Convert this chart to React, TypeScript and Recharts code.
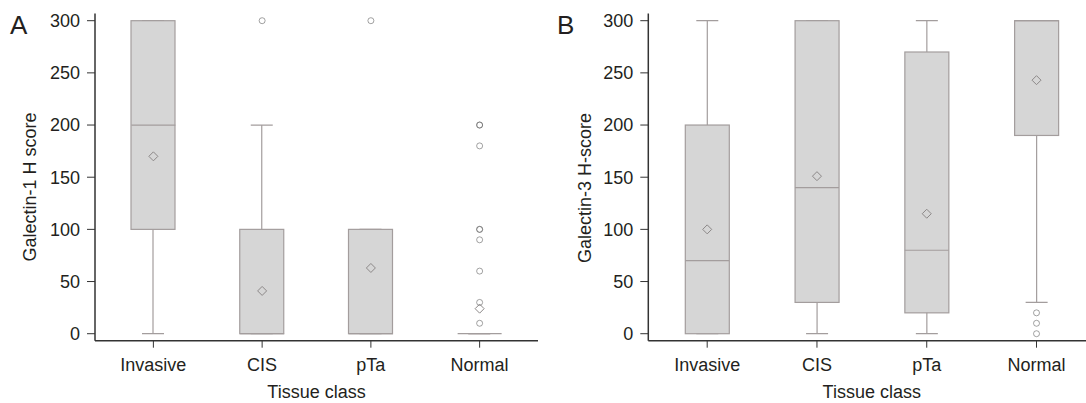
import React from 'react';
import { ComposedChart, Bar, Scatter, XAxis, YAxis } from 'recharts';

const categories = ['Invasive', 'CIS', 'pTa', 'Normal'];
const yTicks = [0, 50, 100, 150, 200, 250, 300];

// Galectin-1 H score (panel A)
const gal1Min = [0, 0, 0, 0];
const gal1Q1 = [100, 0, 0, 0];
const gal1Median = [200, 0, 0, 0];
const gal1Q3 = [300, 100, 100, 0];
const gal1Max = [300, 200, 100, 0];
const gal1Mean = [170, 41, 63, 24];
const gal1Outliers: [string, number][] = [
  ['CIS', 300], ['pTa', 300],
  ['Normal', 200], ['Normal', 200], ['Normal', 180], ['Normal', 100], ['Normal', 100],
  ['Normal', 90], ['Normal', 60], ['Normal', 30], ['Normal', 10],
];

// Galectin-3 H-score (panel B)
const gal3Min = [0, 0, 0, 30];
const gal3Q1 = [0, 30, 20, 190];
const gal3Median = [70, 140, 80, 300];
const gal3Q3 = [200, 300, 270, 300];
const gal3Max = [300, 300, 300, 300];
const gal3Mean = [100, 151, 115, 243];
const gal3Outliers: [string, number][] = [['Normal', 20], ['Normal', 10], ['Normal', 0]];

const FONT = '"Liberation Sans", Arial, Helvetica, sans-serif';
const TEXT = '#231f20';
const AXIS = '#333';
const BOX_FILL = '#d6d6d6';
const BOX_STROKE = '#a39d9d';
const MARK = '#8c8888';
const FS = 18;

const buildRows = (min: number[], q1: number[], med: number[], q3: number[], max: number[], mean: number[]) =>
  categories.map((name, i) => ({
    name,
    whisker: [min[i], max[i]],
    box: [q1[i], q3[i]],
    median: med[i],
    mean: mean[i],
  }));

const WhiskerShape = (p: any) => {
  const { x, width } = p;
  const top = Math.min(p.y, p.y + p.height);
  const bottom = Math.max(p.y, p.y + p.height);
  const cx = x + width / 2;
  return (
    <g stroke={BOX_STROKE} strokeWidth={1.2}>
      <line x1={cx} x2={cx} y1={top} y2={bottom} />
      <line x1={x} x2={x + width} y1={top} y2={top} />
      <line x1={x} x2={x + width} y1={bottom} y2={bottom} />
    </g>
  );
};

const BoxShape = (p: any) => {
  const top = Math.min(p.y, p.y + p.height);
  const h = Math.abs(p.height);
  return <rect x={p.x} y={top} width={p.width} height={h} fill={BOX_FILL} stroke={BOX_STROKE} strokeWidth={1.2} />;
};

const MedianShape = (p: any) => (
  <line x1={p.cx - 22} x2={p.cx + 22} y1={p.cy} y2={p.cy} stroke={BOX_STROKE} strokeWidth={1.2} />
);

const MeanShape = (p: any) => (
  <path
    d={`M${p.cx},${p.cy - 4.5} L${p.cx + 4.5},${p.cy} L${p.cx},${p.cy + 4.5} L${p.cx - 4.5},${p.cy} Z`}
    fill="none"
    stroke={MARK}
    strokeWidth={1}
  />
);

const OutlierShape = (p: any) => (
  <circle cx={p.cx} cy={p.cy} r={3} fill="none" stroke="#666" strokeOpacity={0.6} strokeWidth={1} />
);

interface PanelProps {
  width: number;
  yAxisWidth: number;
  marginRight: number;
  rows: any[];
  outliers: [string, number][];
}

const Panel = ({ width, yAxisWidth, marginRight, rows, outliers }: PanelProps) => {
  const outlierRows = outliers.map(([name, value]) => ({ name, value }));
  const domain = [-6.7, 306.9];
  return (
    <ComposedChart
      width={width}
      height={403}
      data={rows}
      margin={{ top: 13.5, right: marginRight, bottom: 22.3, left: 0 }}
    >
      <XAxis
        xAxisId="bottom"
        dataKey="name"
        type="category"
        allowDuplicatedCategory={false}
        interval={0}
        padding={{ left: 4, right: 4 }}
        height={40}
        tickSize={7}
        tickMargin={11}
        tick={{ fill: TEXT, fontSize: FS, fontFamily: FONT }}
        tickLine={{ stroke: AXIS }}
        axisLine={{ stroke: AXIS, strokeWidth: 1.5 }}
      />
      <XAxis
        xAxisId="top"
        dataKey="name"
        type="category"
        orientation="top"
        padding={{ left: 4, right: 4 }}
        height={0}
        tick={false}
        tickLine={false}
        axisLine={{ stroke: AXIS, strokeWidth: 1.5 }}
      />
      <YAxis
        type="number"
        domain={domain}
        ticks={yTicks}
        allowDataOverflow
        width={yAxisWidth}
        tickSize={8}
        tickMargin={7}
        tick={{ fill: TEXT, fontSize: FS, fontFamily: FONT }}
        tickLine={{ stroke: AXIS }}
        axisLine={{ stroke: AXIS, strokeWidth: 1.5 }}
      />
      <YAxis
        yAxisId="r"
        orientation="right"
        type="number"
        domain={domain}
        allowDataOverflow
        width={0}
        tick={false}
        tickLine={false}
        axisLine={{ stroke: AXIS, strokeWidth: 1.5 }}
      />
      <Bar xAxisId="bottom" dataKey="whisker" barSize={22} shape={WhiskerShape} isAnimationActive={false} />
      <Bar xAxisId="top" dataKey="box" barSize={44} shape={BoxShape} isAnimationActive={false} />
      <Scatter xAxisId="bottom" dataKey="median" shape={MedianShape} isAnimationActive={false} />
      <Scatter xAxisId="bottom" dataKey="mean" shape={MeanShape} isAnimationActive={false} />
      <Scatter xAxisId="bottom" data={outlierRows} dataKey="value" shape={OutlierShape} isAnimationActive={false} />
    </ComposedChart>
  );
};

const gal1Rows = buildRows(gal1Min, gal1Q1, gal1Median, gal1Q3, gal1Max, gal1Mean);
const gal3Rows = buildRows(gal3Min, gal3Q1, gal3Median, gal3Q3, gal3Max, gal3Mean);

export default function App() {
  return (
    <div
      style={{
        position: 'absolute',
        left: 0,
        top: 0,
        width: 1086,
        height: 403,
        overflow: 'hidden',
        background: '#fff',
      }}
    >
      <div style={{ position: 'absolute', left: 0, top: 0 }}>
        <Panel width={543} yAxisWidth={95} marginRight={5} rows={gal1Rows} outliers={gal1Outliers} />
      </div>
      <div style={{ position: 'absolute', left: 543, top: 0 }}>
        <Panel width={556} yAxisWidth={105.3} marginRight={3.6} rows={gal3Rows} outliers={gal3Outliers} />
      </div>
      <svg
        width={1086}
        height={403}
        style={{ position: 'absolute', left: 0, top: 0, pointerEvents: 'none' }}
        fontFamily={FONT}
        fill={TEXT}
      >
        <text x={10} y={33.5} fontSize={26}>A</text>
        <text x={557} y={33.5} fontSize={26}>B</text>
        <text x={36} y={187} fontSize={FS} textAnchor="middle" transform="rotate(-90 36 187)">
          Galectin-1 H score
        </text>
        <text x={591} y={188} fontSize={FS} textAnchor="middle" transform="rotate(-90 591 188)">
          Galectin-3 H-score
        </text>
        <text x={316.5} y={398} fontSize={FS} textAnchor="middle">Tissue class</text>
        <text x={871.8} y={398} fontSize={FS} textAnchor="middle">Tissue class</text>
      </svg>
    </div>
  );
}
